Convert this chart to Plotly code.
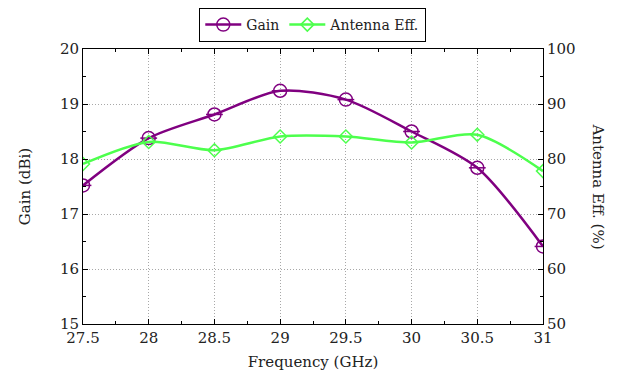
import plotly.graph_objects as go

freq = [27.5, 28, 28.5, 29, 29.5, 30, 30.5, 31]
gain = [17.52, 18.38, 18.81, 19.24, 19.08, 18.5, 17.84, 16.41]
eff = [79.1, 83.1, 81.6, 84.1, 84.1, 83.0, 84.4, 77.8]

x_ticks = [27.5, 28, 28.5, 29, 29.5, 30, 30.5, 31]
gain_ticks = [15, 16, 17, 18, 19, 20]
eff_ticks = [50, 60, 70, 80, 90, 100]

FONT = "DejaVu Serif, Liberation Serif, serif"
FS = 15
purple = "#800080"
green = "#4dff4d"

fig = go.Figure()
fig.add_trace(go.Scatter(
    x=freq, y=gain, name="Gain", mode="lines+markers",
    line=dict(color=purple, width=2.5, shape="spline", smoothing=0.8),
    marker=dict(symbol="circle-open", size=13, color=purple, line=dict(width=1.5)),
))
fig.add_trace(go.Scatter(
    x=freq, y=gain, name="Gain bar", mode="markers", showlegend=False,
    marker=dict(symbol="line-ew", size=12, color=purple, line=dict(width=1.5, color=purple)),
))
fig.add_trace(go.Scatter(
    x=freq, y=eff, name="Antenna Eff.", mode="lines+markers", yaxis="y2",
    line=dict(color=green, width=2.5, shape="spline", smoothing=0.8),
    marker=dict(symbol="diamond-open", size=10, color=green, line=dict(width=1.5)),
))

axis_common = dict(
    showline=True, linecolor="black", linewidth=1,
    ticks="inside", ticklen=5, tickcolor="black",
    tickfont=dict(family=FONT, size=FS, color="#222"),
    zeroline=False, automargin=False,
)

fig.update_layout(
    width=622, height=375,
    margin=dict(l=75, r=87, t=41, b=59),
    paper_bgcolor="white", plot_bgcolor="white",
    font=dict(family=FONT, size=FS, color="#222"),
    showlegend=True,
    legend=dict(
        orientation="h", x=0.49, xanchor="center", xref="container",
        y=1.0, yanchor="top", yref="container",
        bordercolor="black", borderwidth=1, bgcolor="white",
        font=dict(family=FONT, size=14), itemwidth=36,
    ),
    xaxis=dict(
        range=[27.5, 31], tickvals=x_ticks, ticktext=[str(v) for v in x_ticks],
        showgrid=True, gridcolor="#a8a8a8", griddash="1px,2px", gridwidth=1,
        mirror="ticks",
        minor=dict(dtick=0.25, ticks="inside", ticklen=3, tickcolor="black", showgrid=False),
        title=dict(text="Frequency (GHz)", font=dict(family=FONT, size=FS), standoff=10),
        **axis_common,
    ),
    yaxis=dict(
        range=[15, 20], tickvals=gain_ticks,
        showgrid=True, gridcolor="#a8a8a8", griddash="1px,2px", gridwidth=1,
        minor=dict(dtick=0.5, ticks="inside", ticklen=3, tickcolor="black", showgrid=False),
        title=dict(text="Gain (dBi)", font=dict(family=FONT, size=FS), standoff=25),
        **axis_common,
    ),
    yaxis2=dict(
        range=[50, 100], tickvals=eff_ticks, overlaying="y", side="right",
        showgrid=False,
        minor=dict(dtick=5, ticks="inside", ticklen=3, tickcolor="black", showgrid=False),
        **axis_common,
    ),
    annotations=[dict(
        text="Antenna Eff. (%)", textangle=90, xref="paper", yref="paper",
        x=1.0, y=0.5, xanchor="center", yanchor="middle", xshift=55, showarrow=False,
        font=dict(family=FONT, size=FS, color="#222"),
    )],
)

fig.write_html("out.html")
